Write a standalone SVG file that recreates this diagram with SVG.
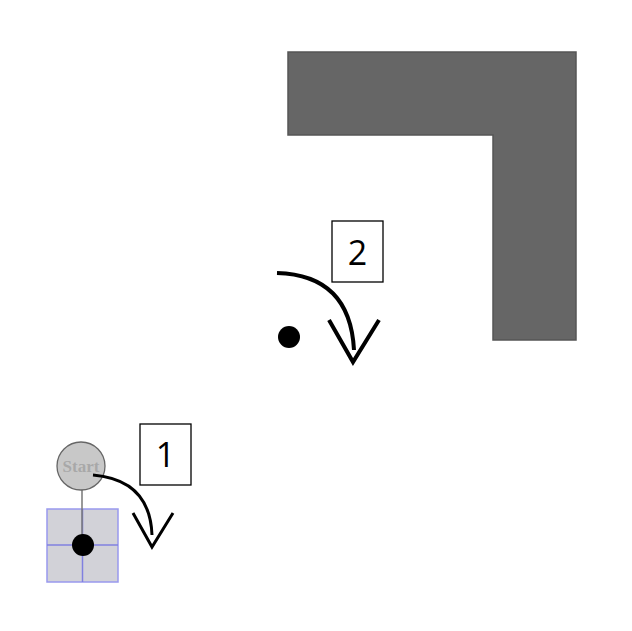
<svg xmlns="http://www.w3.org/2000/svg" width="632" height="631" viewBox="0 0 632 631">
<style>
.lbl{fill:#fff;stroke:#000;stroke-width:1.3}
.num{font-family:"Open Sans","Liberation Sans",sans-serif;font-size:34px;fill:#000;text-anchor:middle}
.arc{fill:none;stroke:#000;stroke-linecap:butt}
.dot{fill:#000}
</style>
<rect width="632" height="631" fill="#fff"/>
<g id="wall">
<path d="M288,52 L576,52 L576,340 L493,340 L493,135 L288,135 Z" fill="#666" stroke="#555" stroke-width="1.5"/>
</g>
<g id="start-node">
<rect x="47" y="509" width="71" height="73" fill="#d2d2d8" stroke="#9999ee" stroke-width="1.5"/>
<line x1="82.5" y1="509" x2="82.5" y2="582" stroke="#8080e0" stroke-width="1.5"/>
<line x1="47" y1="545" x2="118" y2="545" stroke="#8080e0" stroke-width="1.5"/>
<line x1="82" y1="490" x2="82" y2="545" stroke="#777" stroke-width="1.5"/>
<circle cx="81" cy="466" r="24" fill="#c8c8c8" stroke="#666" stroke-width="1.3"/>
<text x="81" y="472" font-family="Liberation Serif,serif" font-size="17" font-weight="bold" fill="#a8a8a8" text-anchor="middle">Start</text>
<circle class="dot" cx="83" cy="545" r="11"/>
</g>
<g id="label-1">
<rect class="lbl" x="140" y="424" width="51" height="61"/>
<text class="num" x="165.5" y="467">1</text>
</g>
<g id="label-2">
<rect class="lbl" x="332" y="221" width="51" height="61"/>
<text class="num" x="357.5" y="265">2</text>
</g>
<g id="point-2">
<circle class="dot" cx="289" cy="337" r="11"/>
</g>
<g id="connectors">
<path class="arc" stroke-width="3" d="M93,475 Q150,480 152,535"/>
<path class="arc" stroke-width="3" d="M133,513 L152,547 L173,513"/>
<path class="arc" stroke-width="4" d="M277,273 Q350,275 354,350"/>
<path class="arc" stroke-width="4" d="M329,320 L353,362 L379,320"/>
</g>
</svg>
